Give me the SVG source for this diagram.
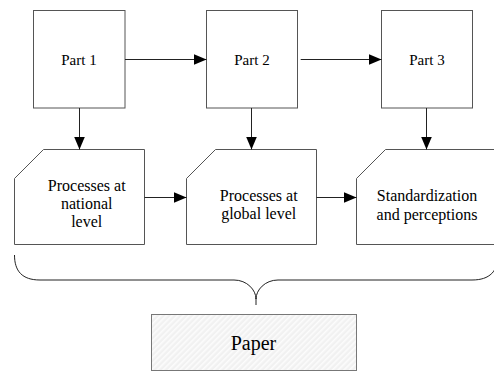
<svg xmlns="http://www.w3.org/2000/svg" width="494" height="371" viewBox="0 0 494 371" font-family="'Liberation Serif', serif">
<defs>
<style>
.box{fill:#fff;stroke:#555;stroke-width:1}
.c{stroke:#222;stroke-width:1;fill:none}
</style>
<marker id="ah" markerUnits="userSpaceOnUse" markerWidth="14" markerHeight="12" refX="13" refY="6" orient="auto">
<path d="M0,0.5 L13,6 L0,11.5 Z" fill="#000"/>
</marker>
<pattern id="hatch" patternUnits="userSpaceOnUse" width="4" height="4" patternTransform="rotate(45)">
<rect width="4" height="4" fill="#f1f1f1"/>
<rect width="1.6" height="4" fill="#fcfcfc"/>
</pattern>
</defs>
<rect width="494" height="371" fill="#fff"/>
<g id="part1" text-anchor="middle" font-size="15"><rect class="box" x="33.5" y="10.5" width="91.5" height="97.5"/><text x="79" y="65">Part 1</text></g>
<g id="part2" text-anchor="middle" font-size="15"><rect class="box" x="206.5" y="10.5" width="91" height="97.5"/><text x="252" y="65">Part 2</text></g>
<g id="part3" text-anchor="middle" font-size="15"><rect class="box" x="381.5" y="10.5" width="91" height="97.5"/><text x="427" y="65">Part 3</text></g>
<g id="proc1" text-anchor="middle" font-size="16"><path class="box" d="M14.5,178.5 L43.5,149.5 L144.5,149.5 L144.5,244.5 L14.5,244.5 Z"/>
<text x="86.7" y="191">Processes at</text><text x="86.7" y="209.3">national</text><text x="86.7" y="227.3">level</text></g>
<g id="proc2" text-anchor="middle" font-size="16"><path class="box" d="M186.5,178.5 L215.5,149.5 L316.5,149.5 L316.5,244.5 L186.5,244.5 Z"/>
<text x="258.7" y="200.5">Processes at</text><text x="258.7" y="219">global level</text></g>
<g id="proc3" text-anchor="middle" font-size="16"><path class="box" d="M356.5,178.5 L385.5,149.5 L520,149.5 L520,244.5 L356.5,244.5 Z"/>
<text x="427" y="201">Standardization</text><text x="427" y="219.5">and perceptions</text></g>
<g id="paper" text-anchor="middle" font-size="20"><rect x="151.5" y="314.5" width="205" height="56" fill="url(#hatch)" stroke="#777" stroke-width="1"/>
<text x="253.5" y="349.5">Paper</text></g>
<g id="connectors">
<line class="c" x1="125" y1="59.5" x2="206.5" y2="59.5" marker-end="url(#ah)"/>
<line class="c" x1="300.7" y1="59.5" x2="381.5" y2="59.5" marker-end="url(#ah)"/>
<line class="c" x1="79.5" y1="108" x2="79.5" y2="149.5" marker-end="url(#ah)"/>
<line class="c" x1="251.5" y1="108" x2="251.5" y2="149.5" marker-end="url(#ah)"/>
<line class="c" x1="426.5" y1="108" x2="426.5" y2="149.5" marker-end="url(#ah)"/>
<line class="c" x1="144.5" y1="197.5" x2="186.5" y2="197.5" marker-end="url(#ah)"/>
<line class="c" x1="316.5" y1="197.5" x2="356.5" y2="197.5" marker-end="url(#ah)"/>
<path class="c" stroke="#444" d="M14.5,255 C14.5,271 22,280 40,280 L234,280 C247,280 256,290 256,299 C256,290 265,280 278,280 L472,280 C490,280 498,271 498,255 M256,298 L256,305"/>
</g>
</svg>
